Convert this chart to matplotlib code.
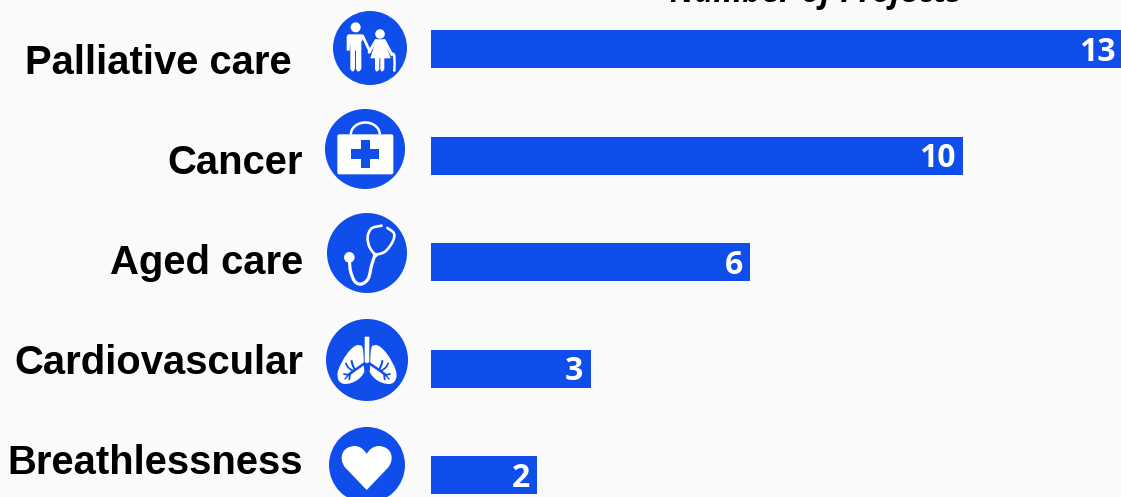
import matplotlib
matplotlib.use('Agg')
import matplotlib.pyplot as plt
from matplotlib.patches import Circle, PathPatch, Rectangle, FancyBboxPatch, Arc
from matplotlib.path import Path

categories = ['Palliative care', 'Cancer', 'Aged care', 'Cardiovascular', 'Breathlessness']
projects = [13, 10, 6, 3, 2]
title = 'Number of Projects'

BLUE = '#104eec'
BG = '#fafafa'
W, H = 1121, 497


def smooth(ax, verts, color='white', lw=2.0):
    """ Open curve through points (Catmull-Rom turned into beziers). """
    seq = list(verts)
    out = [seq[0]]
    codes = [Path.MOVETO]
    for i in range(len(seq) - 1):
        p0 = seq[max(i - 1, 0)]
        p1, p2 = seq[i], seq[i + 1]
        p3 = seq[min(i + 2, len(seq) - 1)]
        c1 = (p1[0] + (p2[0] - p0[0]) / 6, p1[1] + (p2[1] - p0[1]) / 6)
        c2 = (p2[0] - (p3[0] - p1[0]) / 6, p2[1] - (p3[1] - p1[1]) / 6)
        out += [c1, c2, p2]
        codes += [Path.CURVE4] * 3
    ax.add_patch(PathPatch(Path(out, codes), fc='none', ec=color, lw=lw, capstyle='round'))


def poly(ax, pts, color='white'):
    ax.add_patch(plt.Polygon(pts, closed=True, fc=color, ec='none'))


def curve_shape(ax, start, segments, color='white'):
    """ Closed shape: each segment is a point (line) or three points (bezier). """
    verts = [start]
    codes = [Path.MOVETO]
    for seg in segments:
        if len(seg) == 3:
            verts += list(seg)
            codes += [Path.CURVE4] * 3
        else:
            verts += list(seg)
            codes += [Path.LINETO]
    verts.append(start)
    codes.append(Path.CLOSEPOLY)
    ax.add_patch(PathPatch(Path(verts, codes), fc=color, ec='none'))


def zoomed(ox, oy):
    return lambda pts: [(ox + x / 3, oy + y / 3) for x, y in pts]


def people_icon(ax):
    z = zoomed(320, 0)
    ax.add_patch(Circle(z([(107, 82)])[0], 5, fc='white', ec='none'))
    poly(ax, z([(84, 103), (126, 103), (133, 112), (124, 125), (124, 207), (118, 214), (112, 214),
                (108, 207), (108, 152), (105, 152), (105, 207), (100, 214), (96, 214), (91, 207),
                (91, 128), (89, 152), (80, 152), (80, 110)]))
    smooth(ax, z([(128, 108), (150, 155)]), lw=2.0)
    ax.add_patch(Circle(z([(180, 102)])[0], 4.8, fc='white', ec='none'))
    poly(ax, z([(168, 118), (192, 118), (212, 175), (193, 175), (193, 208), (188, 214), (184, 214),
                (181, 208), (181, 175), (178, 175), (178, 208), (173, 214), (168, 214), (165, 208),
                (165, 175), (151, 175)]))
    smooth(ax, z([(168, 121), (147, 157)]), lw=2.0)
    smooth(ax, z([(193, 121), (216, 165)]), lw=2.0)
    smooth(ax, z([(214, 160), (223, 168), (223, 212)]), lw=1.8)


def case_icon(ax):
    z = zoomed(320, 0)
    ax.add_patch(Arc((365.3, 134.5), 29, 24, theta1=180, theta2=360, ec='white', lw=1.8))
    (x0, y0), (x1, y1) = z([(52, 403), (220, 523)])
    ax.add_patch(FancyBboxPatch((x0 + 2, y0 + 2), x1 - x0 - 4, y1 - y0 - 4,
                                boxstyle='round,pad=2', fc='white', ec='none'))
    (cx, cy) = z([(136, 462)])[0]
    ax.add_patch(Rectangle((cx - 14, cy - 4.7), 28, 9.4, fc=BLUE, ec='none'))
    ax.add_patch(Rectangle((cx - 4.7, cy - 14), 9.4, 28, fc=BLUE, ec='none'))


def stethoscope_icon(ax):
    z = zoomed(320, 200)
    ax.add_patch(Circle(z([(88, 172)])[0], 5.3, fc='white', ec='none'))
    smooth(ax, z([(88, 180), (92, 215), (105, 245), (125, 252), (145, 235), (155, 195), (165, 165)]), lw=2.3)
    smooth(ax, z([(165, 165), (148, 140), (143, 110), (155, 85), (185, 77)]), lw=1.9)
    smooth(ax, z([(165, 165), (195, 155), (218, 125), (222, 100), (202, 84)]), lw=1.9)
    ax.add_patch(Circle(z([(166, 165)])[0], 2.4, fc='white', ec='none'))


def lungs_icon(ax):
    z = zoomed(320, 200)
    for m in (lambda x: x, lambda x: 282 - x):
        pt = lambda x, y: z([(m(x), y)])[0]
        curve_shape(ax, pt(125, 437), [
            (pt(131, 445), pt(131, 470), pt(131, 495)),
            (pt(133, 515),),
            (pt(125, 535), pt(100, 552), pt(75, 552)),
            (pt(55, 552), pt(48, 530), pt(55, 510)),
            (pt(65, 480), pt(95, 435), pt(115, 435)),
        ])
        smooth(ax, z([(m(140), 486), (m(105), 510), (m(85), 525)]), color=BLUE, lw=1.8)
        smooth(ax, z([(m(105), 510), (m(98), 495), (m(95), 483)]), color=BLUE, lw=1.5)
        smooth(ax, z([(m(100), 513), (m(85), 503), (m(78), 490)]), color=BLUE, lw=1.3)
        smooth(ax, z([(m(90), 522), (m(88), 538)]), color=BLUE, lw=1.3)
        smooth(ax, z([(m(85), 525), (m(72), 522)]), color=BLUE, lw=1.3)
        smooth(ax, z([(m(92), 518), (m(75), 537)]), color=BLUE, lw=1.0)
    poly(ax, z([(134, 410), (148, 410), (148, 486), (141, 490), (134, 486)]))


def heart_icon(ax):
    z = zoomed(320, 200)
    pt = lambda x, y: z([(x, y)])[0]
    curve_shape(ax, pt(140, 870), [
        (pt(75, 802),),
        (pt(55, 775), pt(65, 740), pt(103, 738)),
        (pt(120, 738), pt(132, 748), pt(140, 762)),
        (pt(148, 748), pt(160, 738), pt(177, 738)),
        (pt(215, 740), pt(225, 775), pt(205, 802)),
    ])


plt.rcParams['font.family'] = ['Liberation Sans', 'DejaVu Sans']
fig = plt.figure(figsize=(W / 100, H / 100), dpi=100, facecolor=BG)

# bars live in an axes that runs from the bar origin to the right edge
ax = fig.add_axes([431 / W, 0, 690 / W, 1])
ax.set_facecolor('none')
y_pos = range(len(categories))
ax.barh(y_pos, projects, height=38 / 106.5, color=BLUE)
ax.set_xlim(0, 690 / 53.2)
ax.set_ylim((H - 49) / 106.5, -49 / 106.5)
ax.axis('off')
for y, v in zip(y_pos, projects):
    ax.annotate(str(v), (v, y), xytext=(-5.3, -2.2), textcoords='offset points', ha='right',
                va='center', color='white', fontsize=23, fontweight='bold', family='Open Sans',
                annotation_clip=False)

# pixel overlay for the text and the round icons
ov = fig.add_axes([0, 0, 1, 1])
ov.set_xlim(0, W)
ov.set_ylim(H, 0)
ov.axis('off')
ov.patch.set_alpha(0)

label_right = [292, 303, 303, 303, 303]
label_y = [63.5, 163.5, 263.5, 363.5, 463.5]
for name, x, y in zip(categories, label_right, label_y):
    ov.text(x, y, name, ha='right', va='center', fontsize=28.8, fontweight='bold', color='black')

ov.text(816, 2, title, ha='center', va='baseline', fontsize=23, fontweight='bold',
        fontstyle='italic', family='Open Sans', color='black', clip_on=False)

icons = [(370, 48, 37, people_icon), (365, 149, 40, case_icon), (367, 253, 40, stethoscope_icon),
         (367, 360, 41, lungs_icon), (367, 465, 38, heart_icon)]
for cx, cy, r, draw in icons:
    ov.add_patch(Circle((cx, cy), r, fc=BLUE, ec='none'))
    draw(ov)

fig.savefig('out.png', dpi=100, facecolor=BG)
